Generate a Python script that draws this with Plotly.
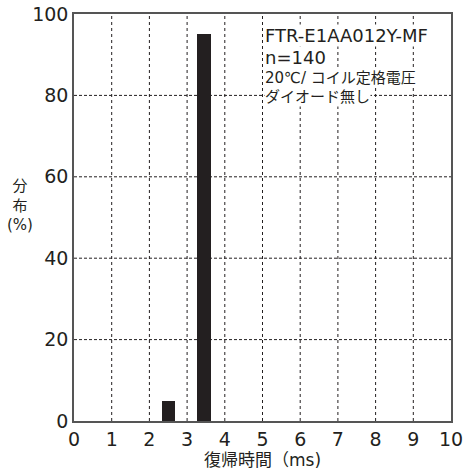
import plotly.graph_objects as go

x_vals = [2.5, 3.45]
y_vals = [5, 95]
x_ticks = [0, 1, 2, 3, 4, 5, 6, 7, 8, 9, 10]
y_ticks = [0, 20, 40, 60, 80, 100]
note_lines = ["FTR-E1AA012Y-MF", "n=140", "20℃/ コイル定格電圧", "ダイオード無し"]

font = "Verdana, DejaVu Sans, Noto Sans CJK JP"
ink = "#231f20"

fig = go.Figure()
fig.add_trace(go.Bar(x=x_vals, y=y_vals, width=0.35, marker=dict(color=ink, line=dict(width=0))))

for t in x_ticks[1:-1]:
    fig.add_shape(type="line", xref="x", yref="paper", x0=t, x1=t, y0=0, y1=1,
                  line=dict(color=ink, width=1, dash="dot"), layer="below")
for t in y_ticks[1:-1]:
    fig.add_shape(type="line", xref="paper", yref="y", x0=0, x1=1, y0=t, y1=t,
                  line=dict(color=ink, width=1, dash="3px,2px"), layer="below")

sizes = [18, 18, 15, 15]
ys = [94.8, 89.4, 84.3, 79.6]
for txt, s, yy in zip(note_lines, sizes, ys):
    fig.add_annotation(x=5.03, y=yy, xref="x", yref="y", text=txt, showarrow=False,
                       xanchor="left", yanchor="middle", font=dict(size=s, color=ink, family=font),
                       bgcolor="white", borderpad=0)

fig.add_annotation(x=-0.143, y=0.53, xref="paper", yref="paper", text="分<br>布<br>(%)", showarrow=False,
                   xanchor="center", yanchor="middle",
                   font=dict(size=15, color=ink, family=font), align="center")

fig.update_layout(
    width=465, height=470,
    margin=dict(l=74, r=14, t=14, b=49),
    plot_bgcolor="white", paper_bgcolor="white",
    showlegend=False,
    bargap=0,
    xaxis=dict(range=[0, 10], tickvals=x_ticks, showgrid=False, zeroline=False, automargin=False,
               showline=True, mirror=True, linecolor="#555", linewidth=1.5, ticklabeloverflow="allow",
               ticks="", tickfont=dict(size=19, color=ink, family=font),
               title=dict(text="復帰時間（ms)", font=dict(size=17, color=ink, family=font), standoff=4)),
    yaxis=dict(range=[0, 100], tickvals=y_ticks, showgrid=False, zeroline=False, automargin=False,
               showline=True, mirror=True, linecolor="#555", linewidth=1.5, ticklabeloverflow="allow",
               ticks="", tickfont=dict(size=19, color=ink, family=font)),
)

fig.write_html("out.html", config={"displayModeBar": False},
               post_script="document.body.style.margin='0';")
